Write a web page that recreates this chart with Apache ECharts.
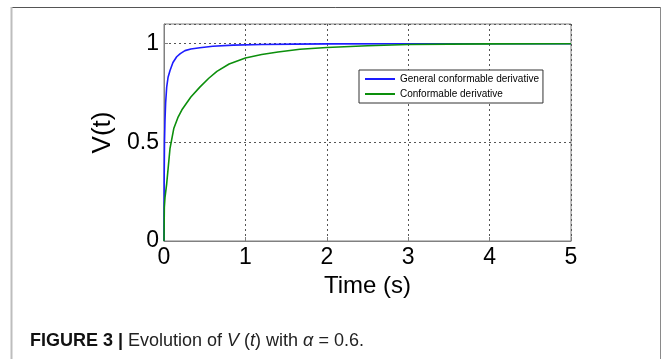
<!DOCTYPE html>
<html>
<head>
<meta charset="utf-8">
<script src="https://cdn.jsdelivr.net/npm/echarts@6/dist/echarts.min.js"></script>
<style>
  html, body { margin: 0; padding: 0; background: #fff; }
  #chart { width: 664px; height: 359px; }
</style>
</head>
<body>
<div id="chart"></div>
<script>
// Time samples (s) and V(t) for each derivative type
const tGeneral = [0, 0.002, 0.006, 0.012, 0.02, 0.033, 0.05, 0.074, 0.11, 0.156, 0.2, 0.258, 0.33, 0.44, 0.6, 0.85, 1.2, 1.6, 2, 3, 4, 5];
const vGeneral = [0, 0.3, 0.5, 0.61, 0.7, 0.78, 0.83, 0.864, 0.905, 0.934, 0.95, 0.965, 0.973, 0.98, 0.987, 0.993, 0.996, 0.998, 0.999, 1, 1, 1];

const tConf = [0, 0.004, 0.012, 0.033, 0.074, 0.12, 0.17, 0.22, 0.33, 0.44, 0.55, 0.65, 0.8, 1.0, 1.2, 1.4, 1.67, 2.0, 2.5, 3.0, 3.5, 4.0, 5.0];
const vConf = [0, 0.17, 0.22, 0.29, 0.47, 0.57, 0.625, 0.665, 0.73, 0.78, 0.825, 0.86, 0.897, 0.928, 0.945, 0.958, 0.972, 0.981, 0.99, 0.996, 0.998, 0.999, 1];

const seriesNames = ['General conformable derivative', 'Conformable derivative'];
const xTicks = [0, 1, 2, 3, 4, 5];
const yTicks = [0, 0.5, 1];

const zip = (xs, ys) => xs.map((x, i) => [x, ys[i]]);

const chart = echarts.init(document.getElementById('chart'), null, { renderer: 'canvas' });

const FONT = 'Liberation Sans, Arial, sans-serif';
const gridDash = { color: '#555', width: 1, type: [2, 3] };
const tickFont = { fontFamily: FONT, fontSize: 23, color: '#000' };

chart.setOption({
  animation: false,
  backgroundColor: '#fff',
  grid: {
    left: 164, top: 24, right: 93, bottom: 118,
    show: true, borderColor: '#808080', borderWidth: 1
  },
  legend: {
    orient: 'vertical',
    left: 359, top: 70,
    padding: [3, 4, 3, 6],
    itemGap: 3,
    icon: 'rect',
    itemWidth: 30, itemHeight: 2,
    borderColor: '#333', borderWidth: 1,
    backgroundColor: '#fff',
    textStyle: { fontFamily: FONT, fontSize: 10, color: '#000', lineHeight: 12 },
    data: seriesNames
  },
  xAxis: {
    type: 'value',
    min: xTicks[0], max: xTicks[xTicks.length - 1], interval: 1,
    name: 'Time (s)',
    nameLocation: 'middle',
    nameGap: 28,
    nameTextStyle: { fontFamily: FONT, fontSize: 24, color: '#000' },
    axisLine: { show: true, lineStyle: { color: '#808080', width: 1 } },
    axisTick: { show: true, inside: true, length: 4, lineStyle: { color: '#808080' } },
    axisLabel: Object.assign({ margin: 5, formatter: v => String(v) }, tickFont),
    splitLine: { show: true, lineStyle: gridDash }
  },
  yAxis: {
    type: 'value',
    min: 0, max: 1.1, interval: 0.5,
    name: 'V(t)',
    nameLocation: 'middle',
    nameGap: 36,
    nameTextStyle: { fontFamily: FONT, fontSize: 26, color: '#000' },
    axisLine: { show: true, lineStyle: { color: '#808080', width: 1 } },
    axisTick: { show: true, inside: true, length: 4, lineStyle: { color: '#808080' } },
    axisLabel: Object.assign({
      margin: 5,
      showMaxLabel: false,
      formatter: v => (yTicks.indexOf(v) >= 0 ? String(v) : '')
    }, tickFont),
    splitLine: { show: true, lineStyle: gridDash }
  },
  series: [
    {
      name: seriesNames[0], type: 'line', symbol: 'none', smooth: false,
      lineStyle: { color: '#1c1cff', width: 1.6 }, itemStyle: { color: '#1c1cff' },
      data: zip(tGeneral, vGeneral), z: 3
    },
    {
      name: seriesNames[1], type: 'line', symbol: 'none', smooth: false,
      lineStyle: { color: '#0c8f0c', width: 1.6 }, itemStyle: { color: '#0c8f0c' },
      data: zip(tConf, vConf), z: 4
    }
  ],
  graphic: [
    // outer figure frame
    { type: 'line', shape: { x1: 11, y1: 7.5, x2: 660.5, y2: 7.5 }, style: { stroke: '#555', lineWidth: 1 } },
    { type: 'line', shape: { x1: 11.5, y1: 7, x2: 11.5, y2: 359 }, style: { stroke: '#bdbdbd', lineWidth: 2 } },
    { type: 'line', shape: { x1: 660.5, y1: 7, x2: 660.5, y2: 359 }, style: { stroke: '#8a8a8a', lineWidth: 1 } },
    // caption
    {
      type: 'text', left: 30, top: 332,
      style: {
        text: '{b|FIGURE 3 |} Evolution of {i|V} ({i|t}) with {i|α} = 0.6.',
        font: '18px "Liberation Sans", Arial, sans-serif',
        fill: '#222',
        rich: {
          b: { fontWeight: 'bold', fontSize: 18, fontFamily: FONT, fill: '#111' },
          i: { fontStyle: 'italic', fontSize: 18, fontFamily: FONT, fill: '#222' }
        }
      }
    }
  ]
});
</script>
</body>
</html>
